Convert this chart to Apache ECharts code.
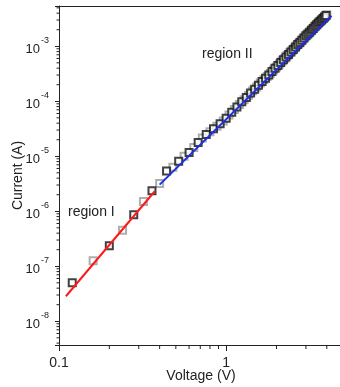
<!DOCTYPE html>
<html>
<head>
<meta charset="utf-8">
<script src="https://cdn.jsdelivr.net/npm/echarts@6/dist/echarts.min.js"></script>
<style>html,body{margin:0;padding:0;background:#fff;}#c{width:340px;height:387px;}</style>
</head>
<body>
<div id="c"></div>
<script>
// Measured data (voltage in V, current in A)
var voltage = [0.12,0.16,0.20,0.24,0.28,0.32,0.36,0.40,0.44,0.48,0.52,0.56,0.60,0.64,0.68,0.72,0.76,0.80,0.84,0.88,0.92,0.96,1.00,
  1.04,1.08,1.12,1.16,1.20,1.24,1.28,1.32,1.36,1.40,1.44,1.48,1.52,1.56,1.60,1.64,1.68,1.72,1.76,1.80,1.84,1.88,1.92,1.96,2.00,
  2.04,2.08,2.12,2.16,2.20,2.24,2.28,2.32,2.36,2.40,2.44,2.48,2.52,2.56,2.60,2.64,2.68,2.72,2.76,2.80,2.84,2.88,2.92,2.96,3.00,
  3.04,3.08,3.12,3.16,3.20,3.24,3.28,3.32,3.36,3.40,3.44,3.48,3.52,3.56,3.60,3.64,3.68,3.72,3.76,3.80,3.84,3.88,3.92,3.96,4.00];
var current = [5.0e-8,1.26e-7,2.35e-7,4.5e-7,8.6e-7,1.5e-6,2.37e-6,3.2e-6,5.4e-6,6.3e-6,8.1e-6,1.0e-5,1.17e-5,1.45e-5,1.78e-5,2.14e-5,2.5e-5,2.8e-5,3.16e-5,3.5e-5,3.9e-5,4.4e-5,4.9e-5,
  5.6e-5,6.3e-5,7.1e-5,7.9e-5,8.7e-5,9.8e-5,1.07e-4,1.17e-4,1.29e-4,1.41e-4,1.55e-4,1.66e-4,1.82e-4,1.95e-4,2.14e-4,2.29e-4,2.45e-4,2.63e-4,2.82e-4,3.02e-4,3.24e-4,3.47e-4,3.72e-4,3.98e-4,4.19e-4,
  4.45e-4,4.76e-4,5.05e-4,5.4e-4,5.7e-4,6.0e-4,6.4e-4,6.8e-4,7.1e-4,7.6e-4,7.9e-4,8.4e-4,8.7e-4,9.3e-4,9.7e-4,1.02e-3,1.08e-3,1.12e-3,1.17e-3,1.23e-3,1.29e-3,1.35e-3,1.41e-3,1.47e-3,1.55e-3,
  1.61e-3,1.67e-3,1.74e-3,1.80e-3,1.89e-3,1.96e-3,2.04e-3,2.11e-3,2.19e-3,2.30e-3,2.38e-3,2.46e-3,2.55e-3,2.64e-3,2.72e-3,2.82e-3,2.91e-3,3.01e-3,3.10e-3,3.21e-3,3.30e-3,3.40e-3,3.52e-3,3.62e-3,3.73e-3];
// Fit lines (end points)
var fitIV = [0.11, 0.374];
var fitII = [2.85e-8, 2.31e-6];
var fitIIV = [0.40, 4.27];
var fitIII = [3.05e-6, 3.6e-3];
// Tick values
var xMinorTicks = [0.2,0.3,0.4,0.5,0.6,0.7,0.8,0.9,2,3,4];
var yMantissas = [2,3,4,5,6,7,8,9];
var yDecades = [1e-9,1e-8,1e-7,1e-6,1e-5,1e-4,1e-3];
var xMin = 0.1, xMax = 5, yMin = 3.7e-9, yMax = 5.4e-3;

var yMinorTicks = [];
yDecades.forEach(function(d){ yMantissas.forEach(function(m){ var v = m*d; if (v > yMin && v < yMax) yMinorTicks.push(v); }); });

var blackPts = [], grayPts = [];
for (var i = 0; i < voltage.length; i++) {
  (i % 2 === 0 ? blackPts : grayPts).push([voltage[i], current[i]]);
}

function isPow10(v){ var l = Math.log10(v); return Math.abs(l - Math.round(l)) < 1e-6; }
var axisColor = '#222';
var font = 'Liberation Sans, Arial, sans-serif';

var chart = echarts.init(document.getElementById('c'), null, {renderer: 'canvas'});
chart.setOption({
  animation: false,
  backgroundColor: '#fff',
  grid: {left: 59, top: 6, right: -3, bottom: 42, containLabel: false, outerBoundsMode: 'none'},
  xAxis: [{
    type: 'log', logBase: 10, min: xMin, max: xMax,
    name: 'Voltage (V)', nameLocation: 'middle', nameGap: 24, nameMoveOverlap: false,
    nameTextStyle: {fontSize: 14, color: axisColor, fontFamily: font},
    axisLine: {lineStyle: {color: axisColor, width: 1}},
    axisTick: {length: 6, lineStyle: {color: axisColor}},
    axisLabel: {fontSize: 14, color: axisColor, fontFamily: font, margin: 11,
      formatter: function(v){ return isPow10(v) ? (v >= 1 ? String(Math.round(v)) : String(+v.toPrecision(1))) : ''; }},
    splitLine: {show: false}
  }, {
    type: 'log', position: 'top', min: xMin, max: xMax,
    axisLine: {lineStyle: {color: axisColor, width: 1}},
    axisTick: {show: false}, axisLabel: {show: false}, splitLine: {show: false}
  }],
  yAxis: [{
    type: 'log', logBase: 10, min: yMin, max: yMax,
    name: 'Current (A)', nameLocation: 'middle', nameGap: 34, nameMoveOverlap: false,
    nameTextStyle: {fontSize: 14, color: axisColor, fontFamily: font},
    axisLine: {lineStyle: {color: axisColor, width: 1}},
    axisTick: {length: 4, lineStyle: {color: axisColor}},
    axisLabel: {color: axisColor, fontFamily: font, margin: 10,
      formatter: function(v){ if (!isPow10(v)) return ''; return '{b|10}{s|' + Math.round(Math.log10(v)) + '}'; },
      rich: {b: {fontSize: 13, fontFamily: font, color: axisColor, lineHeight: 20, verticalAlign: 'bottom'},
             s: {fontSize: 9, fontFamily: font, color: axisColor, lineHeight: 6, verticalAlign: 'top', padding: [0,0,0,1]}}},
    splitLine: {show: false}
  }],
  graphic: [
    {type: 'text', left: 202, top: 47, style: {text: 'region II', fontSize: 14, fontFamily: font, fill: '#222'}},
    {type: 'text', left: 68, top: 205, style: {text: 'region I', fontSize: 14, fontFamily: font, fill: '#222'}}
  ],
  series: [
    {type: 'custom', coordinateSystem: 'cartesian2d', silent: true, clip: false, z: 1,
      data: xMinorTicks.map(function(v){ return [v, yMin]; }),
      renderItem: function(params, api){
        var p = api.coord([api.value(0), api.value(1)]);
        return {type: 'line', shape: {x1: p[0], y1: p[1], x2: p[0], y2: p[1] + 4}, style: {stroke: axisColor, lineWidth: 1}};
      }},
    {type: 'custom', coordinateSystem: 'cartesian2d', silent: true, clip: false, z: 1,
      data: yMinorTicks.map(function(v){ return [xMin, v]; }),
      renderItem: function(params, api){
        var p = api.coord([api.value(0), api.value(1)]);
        return {type: 'line', shape: {x1: p[0] - 2.5, y1: p[1], x2: p[0], y2: p[1]}, style: {stroke: axisColor, lineWidth: 1}};
      }},
    {type: 'scatter', data: grayPts, symbol: 'emptyRect', symbolSize: 7,
      itemStyle: {color: '#9a9a9a', borderWidth: 1}, z: 3},
    {type: 'scatter', data: blackPts, symbol: 'emptyRect', symbolSize: 7,
      itemStyle: {color: '#111', borderWidth: 1}, z: 3},
    {type: 'line', data: [[fitIV[0], fitII[0]], [fitIV[1], fitII[1]]], symbol: 'none',
      lineStyle: {color: '#ff1a1a', width: 2}, z: 5},
    {type: 'line', data: [[fitIIV[0], fitIII[0]], [fitIIV[1], fitIII[1]]], symbol: 'none',
      lineStyle: {color: '#1f2fe0', width: 2}, z: 5}
  ]
});
</script>
</body>
</html>
